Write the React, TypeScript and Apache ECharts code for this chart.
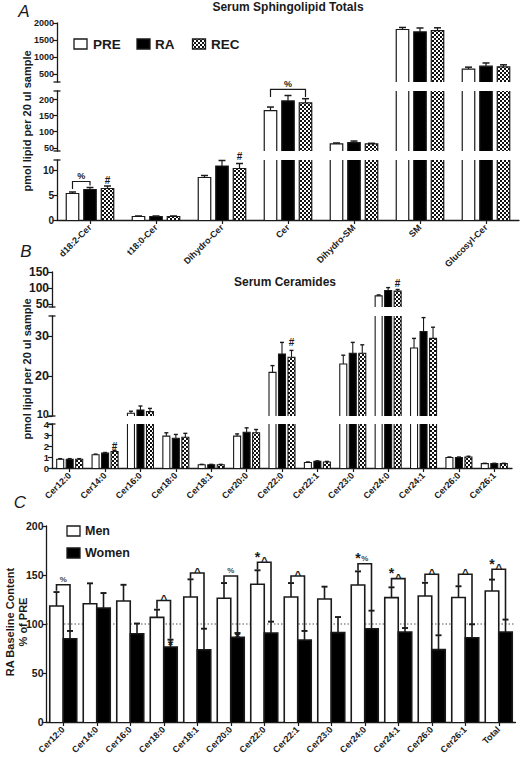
import React, { useEffect, useRef } from 'react';
import * as echarts from 'echarts';

// ---------------- DATA ----------------
const catsA = ['d18:2-Cer', 't18:0-Cer', 'Dihydro-Cer', 'Cer', 'Dihydro-SM', 'SM', 'Glucosyl-Cer'];
const preA = [5.3, 0.7, 8.5, 166, 62, 1810, 655];
const raA = [6.1, 0.7, 10.8, 196, 66, 1740, 740];
const recA = [6.3, 0.7, 10.3, 190, 62, 1775, 723];
const preAErr = [0.3, 0.1, 0.4, 11, 3, 60, 58];
const raAErr = [0.4, 0.1, 1.1, 17, 5, 115, 95];
const recAErr = [0.5, 0.1, 1.0, 13, 2, 85, 58];

const catsB = ['Cer12:0', 'Cer14:0', 'Cer16:0', 'Cer18:0', 'Cer18:1', 'Cer20:0', 'Cer22:0', 'Cer22:1', 'Cer23:0', 'Cer24:0', 'Cer24:1', 'Cer26:0', 'Cer26:1'];
const preB = [0.8, 1.2, 10.7, 2.9, 0.3, 2.9, 20.9, 0.5, 23.0, 75, 27.0, 0.95, 0.4];
const raB = [0.8, 1.35, 11.5, 2.7, 0.3, 3.25, 25.5, 0.6, 25.7, 92, 31.1, 0.95, 0.4];
const recB = [0.8, 1.5, 11.1, 2.8, 0.3, 3.2, 24.7, 0.55, 25.7, 90, 29.4, 1.0, 0.4];
const preBErr = [0.05, 0.06, 0.5, 0.3, 0.03, 0.2, 1.7, 0.05, 2.2, 3, 2.4, 0.05, 0.03];
const raBErr = [0.05, 0.06, 1.0, 0.35, 0.03, 0.4, 2.9, 0.05, 2.7, 9, 3.5, 0.05, 0.03];
const recBErr = [0.05, 0.1, 0.8, 0.35, 0.03, 0.3, 1.7, 0.05, 2.1, 5, 2.8, 0.07, 0.03];

const catsC = ['Cer12:0', 'Cer14:0', 'Cer16:0', 'Cer18:0', 'Cer18:1', 'Cer20:0', 'Cer22:0', 'Cer22:1', 'Cer23:0', 'Cer24:0', 'Cer24:1', 'Cer26:0', 'Cer26:1', 'Total'];
const menC = [118.4, 120.7, 123.5, 106.8, 127.6, 126.2, 140.5, 127.6, 125.5, 139.8, 126.9, 128.6, 127, 133.7];
const menCErr = [14.2, 20.8, 16.5, 7.8, 18, 15.6, 14.3, 14.2, 12.6, 13.9, 10.5, 13.4, 11.5, 11.6];
const womenC = [85, 116.3, 90.1, 76.5, 73.8, 86.4, 90.8, 83.7, 91.2, 95.2, 91.8, 73.9, 86, 91.8];
const womenCErr = [7.9, 15.3, 10.4, 7.5, 21.4, 4.4, 11.6, 9.2, 15.9, 18.4, 4.1, 14.6, 13.7, 12.7];
const baselineC = [100];

const ticksA0 = [500, 1000, 1500, 2000];
const ticksA1 = [50, 100, 150, 200];
const ticksA2 = [0, 5, 10];
const ticksB0 = [50, 100, 150];
const ticksB1 = [10, 20, 30];
const ticksB2 = [0, 1, 2, 3, 4];

// significance annotations: brackets between groups (value coordinates) and single marks
const bracketsA2 = [{ cat: 0, gl: 0, gr: 1, y: 7.7, yl: 6.2, yr: 6.9, text: '%', star: false }];
const bracketsA1 = [{ cat: 3, gl: 0, gr: 2, y: 232, yl: 208, yr: 208, text: '%', star: false }];
const marksA2 = [{ cat: 0, g: 2, y: 7.9, text: '#' }, { cat: 2, g: 2, y: 12.7, text: '#' }];
const marksB0 = [{ cat: 9, g: 2, y: 115, text: '#' }];
const marksB1 = [{ cat: 6, g: 2, y: 28.3, text: '#' }];
const marksB2 = [{ cat: 1, g: 2, y: 2.0, text: '#' }];
const bracketsC = [
  { cat: 0, gl: 0, gr: 1, y: 140, yl: 134, yr: 93, text: '%', star: false },
  { cat: 3, gl: 0, gr: 1, y: 124, yl: 115.5, yr: 85, text: '^', star: false },
  { cat: 4, gl: 0, gr: 1, y: 152, yl: 146.5, yr: 95.5, text: '^', star: false },
  { cat: 5, gl: 0, gr: 1, y: 149, yl: 142.5, yr: 91, text: '%', star: false },
  { cat: 6, gl: 0, gr: 1, y: 163, yl: 155.5, yr: 103, text: '^', star: true },
  { cat: 7, gl: 0, gr: 1, y: 149, yl: 142.5, yr: 93.5, text: '^', star: false },
  { cat: 9, gl: 0, gr: 1, y: 161.5, yl: 154.5, yr: 114, text: '%', star: true },
  { cat: 10, gl: 0, gr: 1, y: 146.3, yl: 138, yr: 96.5, text: '^', star: true },
  { cat: 11, gl: 0, gr: 1, y: 150.7, yl: 143, yr: 89, text: '^', star: false },
  { cat: 12, gl: 0, gr: 1, y: 150.7, yl: 139, yr: 100, text: '^', star: false },
  { cat: 13, gl: 0, gr: 1, y: 155.8, yl: 146, yr: 105, text: '^', star: true },
];
const marksC = [{ cat: 3, g: 1, y: 82, text: '*' }, { cat: 5, g: 1, y: 90, text: '*' }];

// ---------------- STYLE ----------------
const FONT = '"Liberation Sans", Arial, Helvetica, sans-serif';
const INK = '#1a1a1a';

function makePattern(): HTMLCanvasElement {
  const c = document.createElement('canvas');
  c.width = 4;
  c.height = 4;
  const ctx = c.getContext('2d')!;
  ctx.fillStyle = '#ffffff';
  ctx.fillRect(0, 0, 4, 4);
  ctx.fillStyle = '#111111';
  ctx.fillRect(0, 0, 2, 2);
  ctx.fillRect(2, 2, 2, 2);
  return c;
}

type Seg = { grid: number; min: number; max: number };

function barSeries(seg: Seg, gi: number, nG: number, vals: number[], errs: number[], fill: any, barW: number, pitch: number, lw: number, capW: number) {
  return {
    type: 'custom',
    xAxisIndex: seg.grid,
    yAxisIndex: seg.grid,
    clip: false,
    z: 3,
    data: vals.map((v, i) => [i, v, errs[i]]),
    renderItem: (params: any, api: any) => {
      const i = api.value(0);
      const v = api.value(1);
      const e = api.value(2);
      const base = api.coord([i, seg.min]);
      const cx = base[0] + (gi - (nG - 1) / 2) * pitch;
      const x0 = cx - barW / 2;
      const x1 = cx + barW / 2;
      const yB = base[1];
      const children: any[] = [];
      if (v > seg.min) {
        const top = Math.min(v, seg.max);
        const yT = api.coord([i, top])[1];
        children.push({ type: 'rect', shape: { x: x0, y: yT, width: barW, height: yB - yT }, style: { fill, stroke: null } });
        if (v <= seg.max) {
          children.push({ type: 'polyline', shape: { points: [[x0, yB], [x0, yT], [x1, yT], [x1, yB]] }, style: { fill: null, stroke: INK, lineWidth: lw } });
        } else {
          children.push({ type: 'line', shape: { x1: x0, y1: yB, x2: x0, y2: yT }, style: { stroke: INK, lineWidth: lw } });
          children.push({ type: 'line', shape: { x1: x1, y1: yB, x2: x1, y2: yT }, style: { stroke: INK, lineWidth: lw } });
        }
      }
      const hi = v + e;
      if (hi > seg.min && v < seg.max) {
        const ya = api.coord([i, Math.max(v, seg.min)])[1];
        const yb = api.coord([i, Math.min(hi, seg.max)])[1];
        children.push({ type: 'line', shape: { x1: cx, y1: ya, x2: cx, y2: yb }, style: { stroke: INK, lineWidth: lw } });
        if (hi <= seg.max) {
          children.push({ type: 'line', shape: { x1: cx - capW / 2, y1: yb, x2: cx + capW / 2, y2: yb }, style: { stroke: INK, lineWidth: lw + 0.3 } });
        }
      }
      return { type: 'group', children };
    },
  };
}

function glyph(text: string, x: number, yVal: number, size: number, color = INK) {
  // yVal: visual centre of the glyph in pixels
  let y = yVal;
  if (text === '^') y = yVal + 2.5;
  if (text === '*') y = yVal + 0.23 * size;
  return {
    type: 'text',
    x,
    y,
    style: { text, fontSize: size, fontWeight: 'bold', fontFamily: FONT, fill: color, align: 'center', verticalAlign: 'middle' },
  };
}

function annotSeries(grid: number, nG: number, pitch: number, lw: number, brackets: any[], marks: any[], big: boolean) {
  const items = [...brackets.map((b) => ({ ...b, kind: 'b' })), ...marks.map((m) => ({ ...m, kind: 'm' }))];
  return {
    type: 'custom',
    xAxisIndex: grid,
    yAxisIndex: grid,
    clip: false,
    z: 6,
    data: items.map((it) => [it.cat, it.y]),
    renderItem: (params: any, api: any) => {
      const it = items[params.dataIndex];
      const p = api.coord([it.cat, it.y]);
      const gx = (g: number) => p[0] + (g - (nG - 1) / 2) * pitch;
      const children: any[] = [];
      if (it.kind === 'b') {
        const xl = gx(it.gl);
        const xr = gx(it.gr);
        const yl = api.coord([it.cat, it.yl])[1];
        const yr = api.coord([it.cat, it.yr])[1];
        children.push({ type: 'polyline', shape: { points: [[xl, yl], [xl, p[1]], [xr, p[1]], [xr, yr]] }, style: { fill: null, stroke: INK, lineWidth: lw } });
        const mid = (xl + xr) / 2;
        if (it.text === '%') {
          children.push(glyph('%', mid, p[1] - 5.5, big ? 8 : 9, big ? '#444' : INK));
        } else {
          children.push(glyph(it.text, mid, p[1] - 3.5, 11.5));
        }
        if (it.star) children.push(glyph('*', xl, p[1] - 8.5, 14));
      } else {
        const x = gx(it.g);
        children.push(glyph(it.text, x, p[1], it.text === '*' ? 14 : 10));
      }
      return { type: 'group', children };
    },
  };
}

function refLineSeries(grid: number, vals: number[]) {
  return {
    type: 'custom',
    xAxisIndex: grid,
    yAxisIndex: grid,
    z: 1,
    data: vals.map((v) => [0, v]),
    renderItem: (params: any, api: any) => {
      const y = api.coord([0, api.value(1)])[1];
      const cs = params.coordSys;
      return { type: 'line', shape: { x1: cs.x, y1: y, x2: cs.x + cs.width, y2: y }, style: { stroke: '#555', lineWidth: 1, lineDash: [1.5, 2] } };
    },
  };
}

export default function App() {
  const ref = useRef<HTMLDivElement>(null);
  useEffect(() => {
    if (!ref.current) return;
    const chart = echarts.init(ref.current, undefined, { renderer: 'svg' });
    const pattern = { image: makePattern(), repeat: 'repeat' };

    const grids = [
      { left: 57, top: 23, width: 462, height: 59 },
      { left: 57, top: 91, width: 462, height: 60 },
      { left: 57, top: 160, width: 462, height: 60 },
      { left: 52, top: 272, width: 460, height: 35 },
      { left: 52, top: 316, width: 460, height: 100 },
      { left: 52, top: 424, width: 460, height: 44 },
      { left: 46.5, top: 526, width: 469, height: 196 },
    ];
    const cats = [catsA, catsA, catsA, catsB, catsB, catsB, catsC];
    const visibleX = [false, false, true, false, false, true, true];
    const xAxis = grids.map((_, g) => ({
      type: 'category',
      gridIndex: g,
      data: cats[g],
      show: visibleX[g],
      boundaryGap: true,
      axisLine: { show: true, lineStyle: { color: INK, width: 1.3 } },
      axisTick: { show: true, alignWithLabel: true, length: 4, lineStyle: { color: INK, width: 1.2 } },
      axisLabel: { rotate: 45, fontSize: 9, fontWeight: 'bold', fontFamily: FONT, color: INK, margin: 6, interval: 0 },
    }));
    const yRanges: [number, number, number[] | null, number][] = [
      [280, 2000, ticksA0, 9],
      [40, 227, ticksA1, 9],
      [0, 12, ticksA2, 10],
      [40, 150, ticksB0, 12],
      [10, 35, ticksB1, 12.5],
      [0, 4, ticksB2, 9.5],
      [0, 200, null, 10.5],
    ];
    const yAxis = yRanges.map(([min, max, tv, fs], g) => {
      const ax: any = {
        type: 'value',
        gridIndex: g,
        min,
        max,
        splitLine: { show: false },
        axisLine: { show: true, lineStyle: { color: INK, width: 1.3 } },
        axisTick: { show: true, length: 4, lineStyle: { color: INK, width: 1.2 } },
        axisLabel: {
          fontSize: fs,
          fontWeight: 'bold',
          fontFamily: FONT,
          color: INK,
          margin: 3,
          formatter: (v: number) => (g === 4 && v === 10 ? '{s|10}' : String(v)),
          rich: { s: { fontSize: 11, fontWeight: 'bold', fontFamily: FONT, color: INK, padding: [0, 0, 5, 0] } },
        },
      };
      if (tv) {
        ax.axisTick.customValues = tv;
        ax.axisLabel.customValues = tv;
      } else {
        ax.interval = 50;
      }
      return ax;
    });

    const series: any[] = [];
    const segsA: Seg[] = [
      { grid: 0, min: 280, max: 2000 },
      { grid: 1, min: 40, max: 227 },
      { grid: 2, min: 0, max: 12 },
    ];
    const segsB: Seg[] = [
      { grid: 3, min: 40, max: 150 },
      { grid: 4, min: 10, max: 35 },
      { grid: 5, min: 0, max: 4 },
    ];
    const fills = ['#ffffff', '#000000', pattern];
    segsA.forEach((s) => {
      [[preA, preAErr], [raA, raAErr], [recA, recAErr]].forEach(([v, e], gi) => {
        series.push(barSeries(s, gi, 3, v, e, fills[gi], 12.5, 17.5, 1.2, 7));
      });
    });
    segsB.forEach((s) => {
      [[preB, preBErr], [raB, raBErr], [recB, recBErr]].forEach(([v, e], gi) => {
        series.push(barSeries(s, gi, 3, v, e, fills[gi], 7, 9.5, 1.1, 4));
      });
    });
    series.push(refLineSeries(6, baselineC));
    const segC: Seg = { grid: 6, min: 0, max: 200 };
    series.push(barSeries(segC, 0, 2, menC, menCErr, '#ffffff', 13.5, 13.5, 1.6, 6));
    series.push(barSeries(segC, 1, 2, womenC, womenCErr, '#000000', 13.5, 13.5, 1.6, 6));

    series.push(annotSeries(2, 3, 17.5, 1.2, bracketsA2, marksA2, false));
    series.push(annotSeries(1, 3, 17.5, 1.2, bracketsA1, [], false));
    series.push(annotSeries(3, 3, 9.5, 1.1, [], marksB0, false));
    series.push(annotSeries(4, 3, 9.5, 1.1, [], marksB1, false));
    series.push(annotSeries(5, 3, 9.5, 1.1, [], marksB2, false));
    series.push(annotSeries(6, 2, 13.5, 1.6, bracketsC, marksC, true));

    // axis-break caps at segment ends
    const caps: any[] = [];
    const capAt = (x: number, y: number) =>
      caps.push({ type: 'line', shape: { x1: x - 3.5, y1: y, x2: x + 3.5, y2: y }, style: { stroke: INK, lineWidth: 1.3 } });
    [82, 91, 151, 160].forEach((y) => capAt(57, y));
    [307, 316, 416, 424].forEach((y) => capAt(52, y));

    const txt = (text: string, x: number, y: number, size: number, extra: any = {}) => ({
      type: 'text',
      x,
      y,
      style: { text, fontSize: size, fontWeight: 'bold', fontFamily: FONT, fill: INK, align: 'center', verticalAlign: 'middle', ...extra },
    });
    const rotTxt = (text: string, x: number, y: number, size: number, extra: any = {}) => ({
      ...txt(text, x, y, size, extra),
      rotation: Math.PI / 2,
    });
    const letter = (text: string, x: number, y: number) => txt(text, x, y, 17, { fontWeight: 'normal', fontStyle: 'italic' });
    const legendBox = (x: number, y: number, fill: any) => ({
      type: 'rect',
      shape: { x, y, width: 13, height: 10 },
      style: { fill, stroke: INK, lineWidth: 1.3 },
    });

    const graphic: any[] = [
      ...caps,
      txt('Serum Sphingolipid Totals', 288, 7, 12),
      txt('Serum Ceramides', 285, 282, 12),
      letter('A', 24, 11),
      letter('B', 26, 251),
      letter('C', 20, 502),
      rotTxt('pmol lipid per 20 ul sample', 27, 121, 11),
      rotTxt('pmol lipid per 20 ul sample', 27, 369, 11),
      rotTxt('RA Baseline Content\n% of PRE', 16, 622, 11, { lineHeight: 13 }),
      legendBox(74, 39, '#ffffff'),
      txt('PRE', 93, 44.5, 13.5, { align: 'left' }),
      legendBox(137, 39, '#000000'),
      txt('RA', 155, 44.5, 13.5, { align: 'left' }),
      legendBox(192.5, 39, pattern),
      txt('REC', 211, 44.5, 13.5, { align: 'left' }),
      legendBox(67, 526, '#ffffff'),
      txt('Men', 85, 531, 12.5, { align: 'left' }),
      legendBox(67, 548, '#000000'),
      txt('Women', 85, 553, 12.5, { align: 'left' }),
    ];

    chart.setOption({
      animation: false,
      backgroundColor: '#ffffff',
      grid: grids,
      xAxis,
      yAxis,
      series,
      graphic,
    });
    return () => chart.dispose();
  }, []);
  return <div ref={ref} style={{ position: 'absolute', left: 0, top: 0, width: 522, height: 757 }} />;
}
